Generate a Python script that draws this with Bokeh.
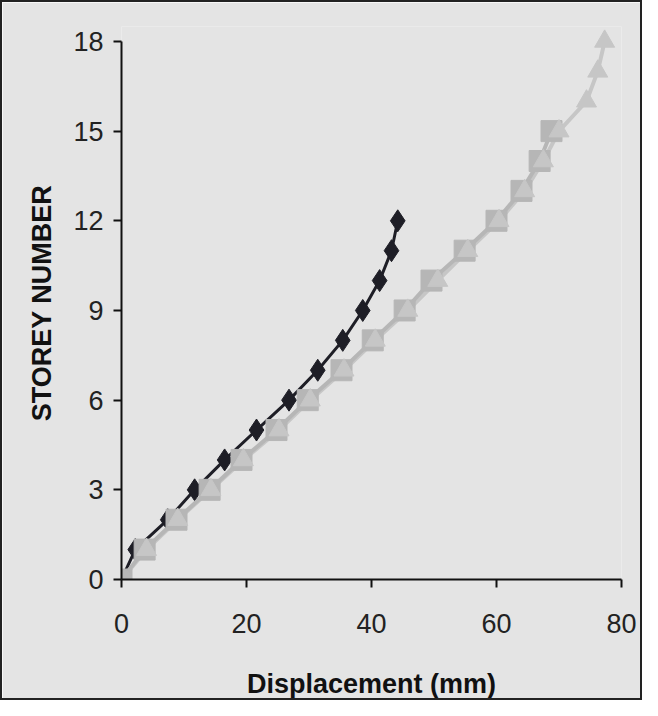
from bokeh.plotting import figure
from bokeh.models import Range1d, FixedTicker
from bokeh.embed import file_html
from bokeh.resources import INLINE

storeys_12 = list(range(0, 13))
disp_12 = [0, 2.2, 7.4, 11.7, 16.5, 21.6, 26.8, 31.4, 35.4, 38.6, 41.3, 43.2, 44.2]

storeys_15 = list(range(0, 16))
disp_15 = [0, 3.7, 8.8, 14.1, 19.2, 24.8, 29.8, 35.2, 40.2, 45.3, 49.6, 54.9, 60.0, 64.0, 66.9, 68.8]

storeys_18 = list(range(0, 19))
disp_18 = [0, 4.0, 9.0, 14.3, 19.5, 25.2, 30.2, 35.6, 40.6, 45.8, 50.6, 55.4, 60.4, 64.5, 67.5, 70.0, 74.4, 76.2, 77.3]

x_ticks = [0, 20, 40, 60, 80]
y_ticks = [0, 3, 6, 9, 12, 15, 18]

bg = "#e4e4e4"
p = figure(width=642, height=700, output_backend="svg", toolbar_location=None,
           x_range=Range1d(0, 80), y_range=Range1d(0, 18.5),
           min_border_left=119, min_border_right=23, min_border_top=24, min_border_bottom=123,
           background_fill_color=bg, border_fill_color=bg,
           styles={"border": "2px solid #222", "box-sizing": "border-box"})
p.outline_line_color = None
p.grid.grid_line_color = None

p.line(disp_12, storeys_12, line_color="#1e1e26", line_width=3)
p.scatter(disp_12, storeys_12, marker="diamond", size=22, fill_color="#1e1e26", line_color="#1e1e26")

p.line(disp_18, storeys_18, line_color="#c6c6c6", line_width=4)
p.line(disp_15, storeys_15, line_color="#b6b6b6", line_width=4)
p.scatter(disp_15, storeys_15, marker="square", size=21, fill_color="#b6b6b6", line_color="#b6b6b6")
p.scatter(disp_18, storeys_18, marker="triangle", size=20, fill_color="#c6c6c6", line_color="#c6c6c6")
p.scatter([0], [0], marker="circle", size=20, fill_color="#b8b8b8", line_color="#b8b8b8")

for ax in (p.xaxis[0], p.yaxis[0]):
    ax.axis_line_width = 2
    ax.axis_line_color = "#111"
    ax.major_tick_line_width = 2
    ax.major_tick_line_color = "#111"
    ax.major_tick_out = 8
    ax.major_tick_in = 0
    ax.minor_tick_line_color = None
    ax.major_label_text_font = "Liberation Sans"
    ax.major_label_text_font_size = "27px"
    ax.major_label_text_color = "#222"
    ax.axis_label_text_font = "Liberation Sans"
    ax.axis_label_text_font_style = "bold"
    ax.axis_label_text_font_size = "27px"
    ax.axis_label_text_color = "#111"

p.yaxis.bounds = (0, 18)
p.xaxis.ticker = FixedTicker(ticks=x_ticks)
p.yaxis.ticker = FixedTicker(ticks=y_ticks)
p.xaxis.axis_label = "Displacement (mm)"
p.yaxis.axis_label = "STOREY NUMBER"
p.xaxis.major_label_standoff = 26
p.yaxis.major_label_standoff = 10
p.xaxis.axis_label_standoff = 33
p.yaxis.axis_label_standoff = 13

open("out.html", "w").write(file_html(p, INLINE))
